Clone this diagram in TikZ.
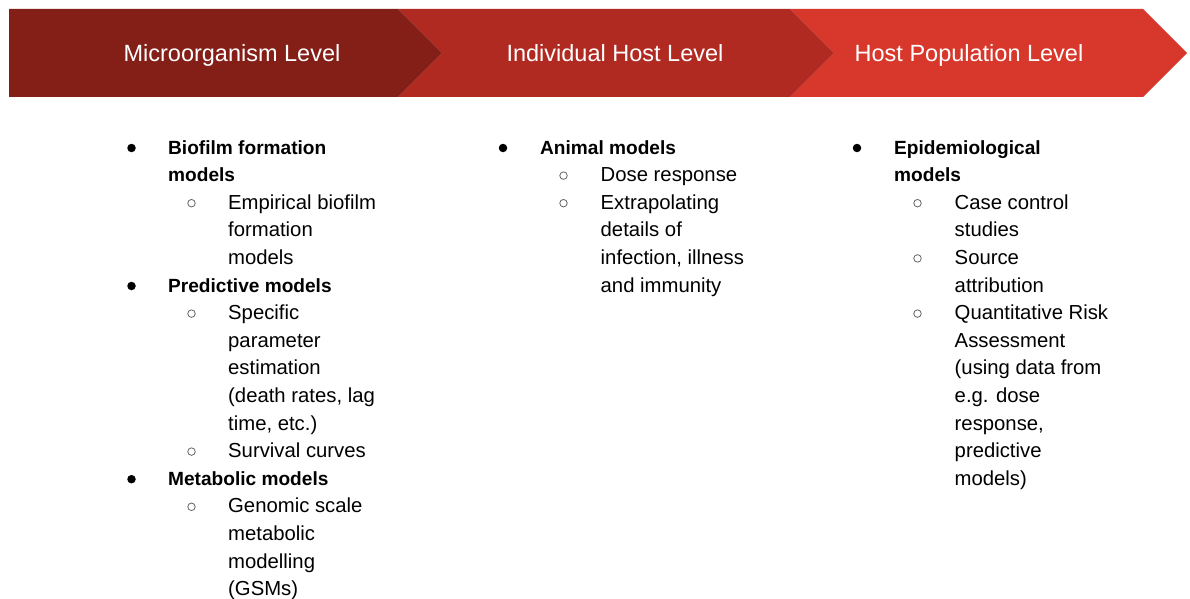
\documentclass[tikz,border=0pt]{standalone}
\usepackage{fontspec}
\setmainfont{Liberation Sans}
\definecolor{levelA}{RGB}{132,31,24}
\definecolor{levelB}{RGB}{177,42,33}
\definecolor{levelC}{RGB}{216,56,44}
\definecolor{circgray}{RGB}{100,100,100}
\begin{document}
\begin{tikzpicture}[x=1pt,y=-1pt,
  header/.style={text=white,font=\fontsize{23.5}{28}\selectfont,anchor=base,inner sep=0pt},
  lineitem/.style={anchor=base west,inner sep=0pt,text=black,font=\fontsize{20.3}{24}\selectfont},
  boldline/.style={lineitem,font=\fontsize{19.1}{24}\selectfont\bfseries},
  dotbullet/.style={circle,fill=black,inner sep=0pt,minimum size=8.5pt},
  ringbullet/.style={circle,draw=circgray,line width=0.8pt,inner sep=0pt,minimum size=7.5pt}]
\useasboundingbox (0,0) rectangle (1190,599);
% baseline of line n (1-based)
\newcommand*\bl[1]{\fpeval{154+27.6*(#1-1)}}
% header chevrons
\fill[levelC] (790,9) -- (1143,9) -- (1187,53) -- (1143,97) -- (790,97) -- (834,53) -- cycle;
\fill[levelB] (398,9) -- (790,9) -- (834,53) -- (790,97) -- (398,97) -- (442,53) -- cycle;
\fill[levelA] (9,9) -- (398,9) -- (442,53) -- (398,97) -- (9,97) -- cycle;
\node[header] (h1) at (232,62) {Microorganism Level};
\node[header] (h2) at (615,62) {Individual Host Level};
\node[header] (h3) at (969,62) {Host Population Level};
% column 1
\node[dotbullet] (a1d) at (131.5,{\bl{1}-6}) {};
\node[boldline] (a1) at (168,{\bl{1}}) {Biofilm formation};
\node[boldline] (a2) at (168,{\bl{2}}) {models};
\node[ringbullet] (a3d) at (191.5,{\bl{3}-6}) {};
\node[lineitem] (a3) at (228,{\bl{3}}) {Empirical biofilm};
\node[lineitem] (a4) at (228,{\bl{4}}) {formation};
\node[lineitem] (a5) at (228,{\bl{5}}) {models};
\node[dotbullet] (a6d) at (131.5,{\bl{6}-6}) {};
\node[boldline] (a6) at (168,{\bl{6}}) {Predictive models};
\node[ringbullet] (a7d) at (191.5,{\bl{7}-6}) {};
\node[lineitem] (a7) at (228,{\bl{7}}) {Specific};
\node[lineitem] (a8) at (228,{\bl{8}}) {parameter};
\node[lineitem] (a9) at (228,{\bl{9}}) {estimation};
\node[lineitem] (a10) at (228,{\bl{10}}) {(death rates, lag};
\node[lineitem] (a11) at (228,{\bl{11}}) {time, etc.)};
\node[ringbullet] (a12d) at (191.5,{\bl{12}-6}) {};
\node[lineitem] (a12) at (228,{\bl{12}}) {Survival curves};
\node[dotbullet] (a13d) at (131.5,{\bl{13}-6}) {};
\node[boldline] (a13) at (168,{\bl{13}}) {Metabolic models};
\node[ringbullet] (a14d) at (191.5,{\bl{14}-6}) {};
\node[lineitem] (a14) at (228,{\bl{14}}) {Genomic scale};
\node[lineitem] (a15) at (228,{\bl{15}}) {metabolic};
\node[lineitem] (a16) at (228,{\bl{16}}) {modelling};
\node[lineitem] (a17) at (228,{\bl{17}}) {(GSMs)};
% column 2
\node[dotbullet] (b1d) at (503,{\bl{1}-6}) {};
\node[boldline] (b1) at (540,{\bl{1}}) {Animal models};
\node[ringbullet] (b2d) at (563.5,{\bl{2}-6}) {};
\node[lineitem] (b2) at (600.5,{\bl{2}}) {Dose response};
\node[ringbullet] (b3d) at (563.5,{\bl{3}-6}) {};
\node[lineitem] (b3) at (600.5,{\bl{3}}) {Extrapolating};
\node[lineitem] (b4) at (600.5,{\bl{4}}) {details of};
\node[lineitem] (b5) at (600.5,{\bl{5}}) {infection, illness};
\node[lineitem] (b6) at (600.5,{\bl{6}}) {and immunity};
% column 3
\node[dotbullet] (c1d) at (857,{\bl{1}-6}) {};
\node[boldline] (c1) at (894,{\bl{1}}) {Epidemiological};
\node[boldline] (c2) at (894,{\bl{2}}) {models};
\node[ringbullet] (c3d) at (917.5,{\bl{3}-6}) {};
\node[lineitem] (c3) at (954.5,{\bl{3}}) {Case control};
\node[lineitem] (c4) at (954.5,{\bl{4}}) {studies};
\node[ringbullet] (c5d) at (917.5,{\bl{5}-6}) {};
\node[lineitem] (c5) at (954.5,{\bl{5}}) {Source};
\node[lineitem] (c6) at (954.5,{\bl{6}}) {attribution};
\node[ringbullet] (c7d) at (917.5,{\bl{7}-6}) {};
\node[lineitem] (c7) at (954.5,{\bl{7}}) {Quantitative Risk};
\node[lineitem] (c8) at (954.5,{\bl{8}}) {Assessment};
\node[lineitem] (c9) at (954.5,{\bl{9}}) {(using data from};
\node[lineitem] (c10) at (954.5,{\bl{10}}) {e.g. dose};
\node[lineitem] (c11) at (954.5,{\bl{11}}) {response,};
\node[lineitem] (c12) at (954.5,{\bl{12}}) {predictive};
\node[lineitem] (c13) at (954.5,{\bl{13}}) {models)};
\end{tikzpicture}
\end{document}
